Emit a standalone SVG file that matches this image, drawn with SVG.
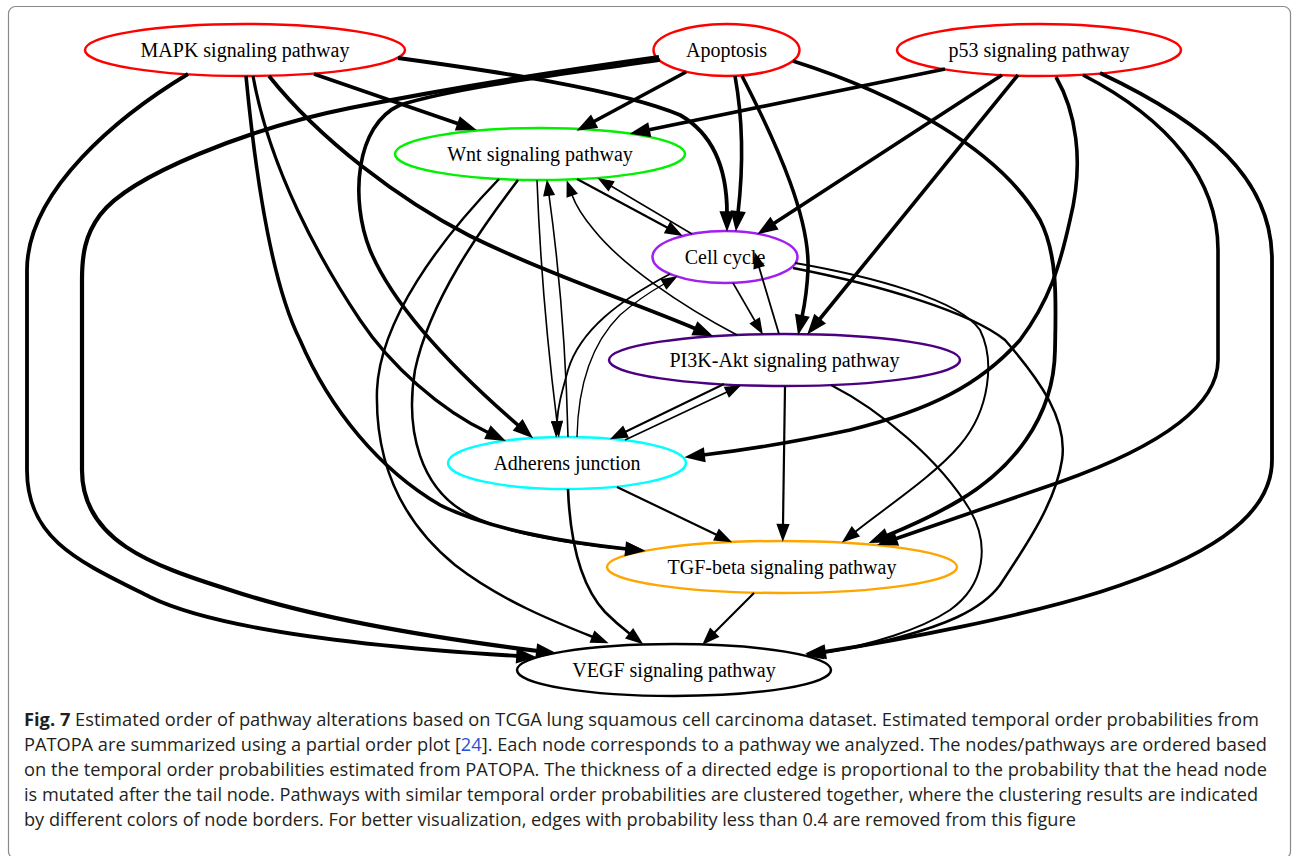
<svg xmlns="http://www.w3.org/2000/svg" width="1292" height="856" viewBox="0 0 1292 856">
<style>
.bg{fill:#fff}
.frame{fill:none;stroke:#8a8a8a;stroke-width:1.2}
.n ellipse{fill:#fff;stroke-width:2.5}
.n text{font-family:"Liberation Serif","Times New Roman",serif;font-size:20px;fill:#000;text-anchor:middle}
.e path{fill:none;stroke:#000;stroke-linecap:butt;stroke-linejoin:round}
.th{stroke-width:3.6;marker-end:url(#at)}
.md{stroke-width:2.3;marker-end:url(#am)}
.tn{stroke-width:1.5;marker-end:url(#an)}
.cap{font-family:"Open Sans","Liberation Sans",sans-serif;font-size:17.5px;fill:#231f20}
</style>
<defs>
<marker id="at" markerUnits="userSpaceOnUse" orient="auto" refX="0" refY="0" overflow="visible"><path d="M0,-5 L13.5,0 L0,5 Z" fill="#000" stroke="#000" stroke-width="3.6" stroke-linejoin="miter"/></marker>
<marker id="am" markerUnits="userSpaceOnUse" orient="auto" refX="0" refY="0" overflow="visible"><path d="M0,-5 L13.5,0 L0,5 Z" fill="#000" stroke="#000" stroke-width="2.3" stroke-linejoin="miter"/></marker>
<marker id="an" markerUnits="userSpaceOnUse" orient="auto" refX="0" refY="0" overflow="visible"><path d="M0,-5 L13.5,0 L0,5 Z" fill="#000" stroke="#000" stroke-width="1.5" stroke-linejoin="miter"/></marker>
</defs>
<rect class="bg" x="0" y="0" width="1292" height="856"/>
<rect class="frame" x="8.5" y="6.5" width="1282" height="852" rx="7"/>

<g id="node-mapk" class="n"><ellipse cx="245" cy="50" rx="160" ry="26" stroke="#ff0000"/><text x="245" y="57">MAPK signaling pathway</text></g>
<g id="node-apoptosis" class="n"><ellipse cx="726.5" cy="50" rx="73" ry="26" stroke="#ff0000"/><text x="726.5" y="57">Apoptosis</text></g>
<g id="node-p53" class="n"><ellipse cx="1039" cy="50" rx="142" ry="26" stroke="#ff0000"/><text x="1039" y="57">p53 signaling pathway</text></g>
<g id="node-wnt" class="n"><ellipse cx="540" cy="154" rx="145" ry="26" stroke="#00f000"/><text x="540" y="161">Wnt signaling pathway</text></g>
<g id="node-cellcycle" class="n"><ellipse cx="725" cy="257" rx="72.5" ry="26" stroke="#a020f0"/><text x="725" y="264">Cell cycle</text></g>
<g id="node-pi3k" class="n"><ellipse cx="784.5" cy="360" rx="175.5" ry="26" stroke="#4b0082"/><text x="784.5" y="367">PI3K-Akt signaling pathway</text></g>
<g id="node-adherens" class="n"><ellipse cx="567" cy="463" rx="119" ry="26" stroke="#00ffff"/><text x="567" y="470">Adherens junction</text></g>
<g id="node-tgf" class="n"><ellipse cx="782" cy="567" rx="175" ry="26" stroke="#ffa500"/><text x="782" y="574">TGF-beta signaling pathway</text></g>
<g id="node-vegf" class="n"><ellipse cx="674" cy="670" rx="157" ry="26" stroke="#000000"/><text x="674" y="677">VEGF signaling pathway</text></g>

<g id="connectors" class="e">
<path class="th" style="stroke-width:3.8" d="M188,74 C120,115 27,190 27,270 L27,470 C27,540 80,562 150,597 C230,636 420,650 518,656"/>
<path class="th" style="stroke-width:4.2" d="M659,57 C580,68 450,88 350,108 C250,128 130,175 100,215 C85,235 82,255 82,280 L82,470 C82,540 150,565 230,590 C320,620 450,640 538,651"/>
<path class="th" d="M660,60 C580,72 460,86 400,105 C355,125 350,200 370,250 C395,310 460,375 519,426"/>
<path class="th" d="M686,72 L593,122"/>
<path class="th" d="M735,76 C743,120 743,170 738,213"/>
<path class="th" d="M742,76 C780,150 810,220 808,270 C807,290 805,303 802,317"/>
<path class="th" style="stroke-width:3.8" d="M793,61 C900,95 1000,150 1040,220 C1058,255 1056,300 1055,350 C1054,420 1010,470 960,500 C935,515 908,527 886,536"/>
<path class="th" d="M246,76 C255,170 270,280 300,340 C330,410 380,470 440,505 C490,530 570,543 627,549"/>
<path class="th" style="stroke-width:3.2" d="M253,76 C270,170 320,260 360,320 C390,365 440,410 489,433"/>
<path class="th" style="stroke-width:3.8" d="M269,76 C320,140 400,200 470,236 C550,275 640,305 696,329"/>
<path class="th" style="stroke-width:3.8" d="M314,74 L459,124"/>
<path class="th" style="stroke-width:3.8" d="M398,58 C500,72 620,90 680,115 C715,135 727,172 727,213"/>
<path class="th" d="M945,69 L648,130"/>
<path class="th" d="M1002,75 L773,224"/>
<path class="th" d="M1018,75 L819,320"/>
<path class="th" d="M1056,77 C1075,110 1085,160 1070,220 C1060,265 1050,300 1020,340 C980,385 930,410 850,430 C790,443 745,450 703,455"/>
<path class="th" d="M1083,75 C1170,120 1218,180 1218,250 L1218,360 C1218,410 1150,450 1060,482 C1000,503 940,524 895,539"/>
<path class="th" style="stroke-width:3.8" d="M1100,73 C1210,125 1272,180 1272,260 L1272,460 C1272,520 1200,560 1100,592 C1020,617 900,640 824,652"/>
<path class="md" style="stroke-width:2.2" d="M577,179 L668,228"/>
<path class="tn" d="M692,234 L611,186"/>
<path class="tn" style="stroke-width:1.6" d="M537,180 C540,260 548,350 557,422"/>
<path class="tn" style="stroke-width:1.6" d="M568,437 C566,350 558,260 549,195"/>
<path class="tn" style="stroke-width:1.6" d="M737,335 C680,305 622,265 594,230 C583,217 576,206 572,195"/>
<path class="md" style="stroke-width:2.5" d="M518,180 C480,230 430,300 415,370 C405,430 420,490 470,515 C510,535 575,544 628,549"/>
<path class="md" style="stroke-width:2.5" d="M499,179 C440,240 380,320 377,390 C375,460 400,520 455,565 C500,600 555,622 593,637"/>
<path class="tn" style="stroke-width:1.6" d="M733,283 L755,321"/>
<path class="tn" style="stroke-width:1.8" d="M779,334 L759,267"/>
<path class="tn" style="stroke-width:1.8" d="M670,274 C620,300 580,330 568,370 C562,392 558,405 557,422"/>
<path class="tn" style="stroke-width:1.4" d="M577,437 C578,390 590,345 620,315 C635,302 650,292 664,284"/>
<path class="md" style="stroke-width:2" d="M795,263 C870,276 960,300 980,330 C995,360 990,410 960,445 C935,475 885,508 855,532"/>
<path class="md" style="stroke-width:2.5" d="M793,268 C880,285 970,312 1005,340 C1040,380 1068,420 1062,460 C1056,500 1030,540 1000,585 C980,612 940,626 900,637 C870,645 845,650 822,652"/>
<path class="md" style="stroke-width:2" d="M724,384 L625,432"/>
<path class="tn" d="M625,440 L727,392"/>
<path class="md" style="stroke-width:2.2" d="M785,386 L783,525"/>
<path class="md" style="stroke-width:2" d="M831,385 C880,410 940,460 970,510 C990,545 985,585 950,610 C920,630 870,645 822,653"/>
<path class="md" style="stroke-width:2.2" d="M617,487 L717,535"/>
<path class="md" style="stroke-width:2.6" d="M568,489 C570,540 580,585 605,612 C613,620 621,627 630,634"/>
<path class="md" style="stroke-width:2.2" d="M754,593 L714,633"/>
</g>

<g id="caption" class="cap">
<text x="24" y="726" textLength="1235" lengthAdjust="spacingAndGlyphs"><tspan font-weight="bold">Fig. 7</tspan> Estimated order of pathway alterations based on TCGA lung squamous cell carcinoma dataset. Estimated temporal order probabilities from</text>
<text x="24" y="751" textLength="1243" lengthAdjust="spacingAndGlyphs">PATOPA are summarized using a partial order plot [<tspan fill="#2a4fd6">24</tspan>]. Each node corresponds to a pathway we analyzed. The nodes/pathways are ordered based</text>
<text x="24" y="776" textLength="1243" lengthAdjust="spacingAndGlyphs">on the temporal order probabilities estimated from PATOPA. The thickness of a directed edge is proportional to the probability that the head node</text>
<text x="24" y="801" textLength="1234" lengthAdjust="spacingAndGlyphs">is mutated after the tail node. Pathways with similar temporal order probabilities are clustered together, where the clustering results are indicated</text>
<text x="24" y="826" textLength="1052" lengthAdjust="spacingAndGlyphs">by different colors of node borders. For better visualization, edges with probability less than 0.4 are removed from this figure</text>
</g>
</svg>
